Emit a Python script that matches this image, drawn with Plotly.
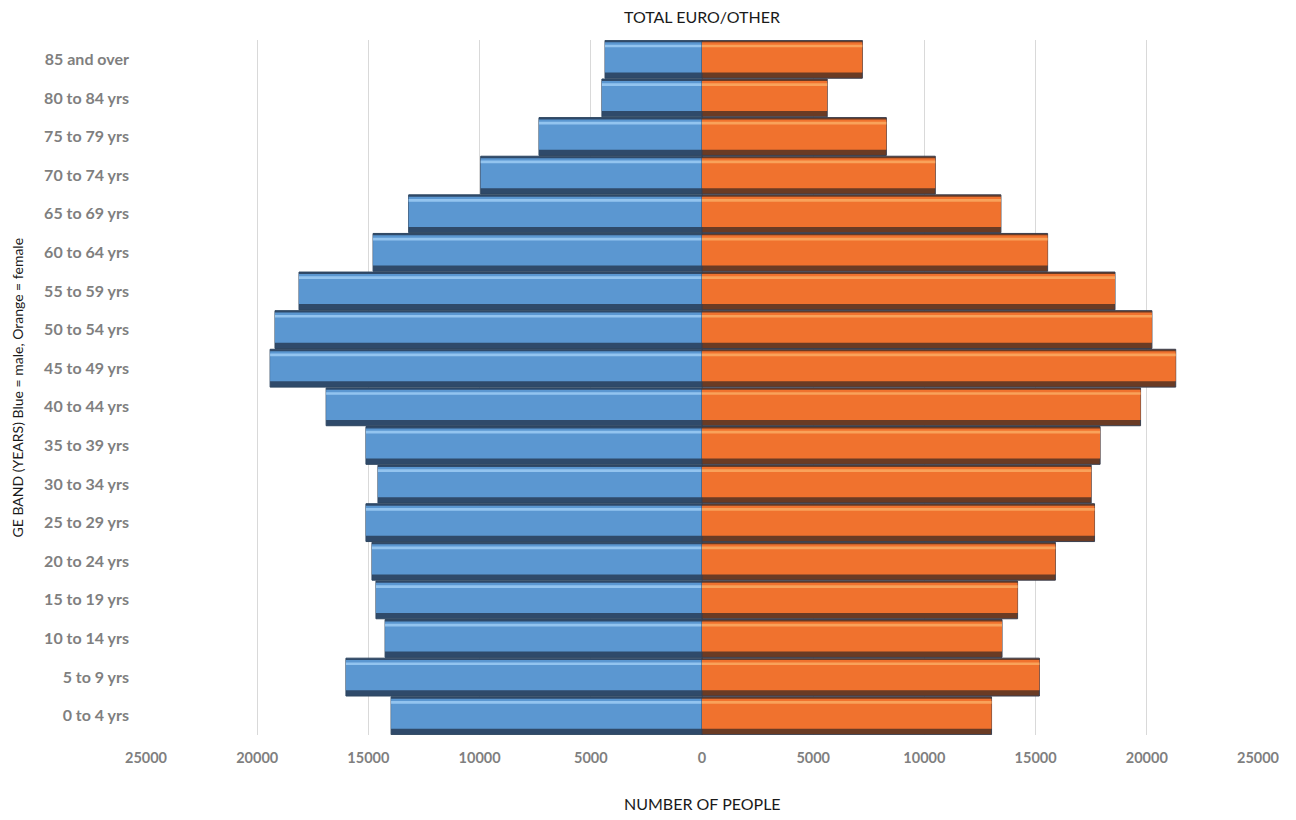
import plotly.graph_objects as go

# Age bands, youngest first (drawn bottom to top)
age_bands = [
    "0 to 4 yrs", "5 to 9 yrs", "10 to 14 yrs", "15 to 19 yrs", "20 to 24 yrs",
    "25 to 29 yrs", "30 to 34 yrs", "35 to 39 yrs", "40 to 44 yrs", "45 to 49 yrs",
    "50 to 54 yrs", "55 to 59 yrs", "60 to 64 yrs", "65 to 69 yrs", "70 to 74 yrs",
    "75 to 79 yrs", "80 to 84 yrs", "85 and over",
]

male = [13980, 16010, 14250, 14660, 14840, 15110, 14570, 15110, 16900, 19420,
        19200, 18120, 14790, 13190, 9950, 7330, 4500, 4360]
female = [13020, 15170, 13490, 14190, 15890, 17650, 17500, 17900, 19720, 21300,
          20230, 18570, 15540, 13440, 10490, 8290, 5630, 7210]

tick_values = [-25000, -20000, -15000, -10000, -5000, 0, 5000, 10000, 15000, 20000, 25000]
tick_text = ["25000", "20000", "15000", "10000", "5000", "0",
             "5000", "10000", "15000", "20000", "25000"]

male_x = [-v for v in male]

FONT = "Lato"
LABEL_GREY = "#7f7f7f"

fig = go.Figure()


def bevel_bar(xvals, body, light, shadow, edge):
    """Layered horizontal bar: dark base, coloured body, light top stripe."""
    # dark base / lower shadow band
    fig.add_trace(go.Bar(
        x=xvals, y=age_bands, orientation="h", width=0.98, offset=-0.49,
        marker=dict(color=shadow, line=dict(color=edge, width=1)),
        showlegend=False, hoverinfo="skip",
    ))
    # main body
    fig.add_trace(go.Bar(
        x=xvals, y=age_bands, orientation="h", width=0.78, offset=-0.34,
        marker=dict(color=body, line=dict(width=0)),
        showlegend=False, hoverinfo="skip",
    ))
    # highlight stripe near the top edge
    fig.add_trace(go.Bar(
        x=xvals, y=age_bands, orientation="h", width=0.07, offset=0.31,
        marker=dict(color=light, line=dict(width=0)),
        showlegend=False, hoverinfo="skip",
    ))


bevel_bar(male_x, "#5b97d1", "#93c4ef", "#2f4a6a", "#2e4660")
bevel_bar(female, "#f0722e", "#f9a25a", "#6a3b24", "#3a3f4e")

fig.update_layout(
    width=1296, height=820,
    margin=dict(l=146, r=38, t=40, b=85),
    paper_bgcolor="white", plot_bgcolor="white",
    barmode="overlay",
    font=dict(family=FONT, size=14, color="#262626"),
    title=dict(text="TOTAL EURO/OTHER", x=0.5, xanchor="center", xref="paper",
               y=1 - 17 / 820, yanchor="middle",
               font=dict(family=FONT, size=16, color="#1a1a1a")),
    xaxis=dict(
        range=[-25000, 25000], tickvals=tick_values, ticktext=tick_text,
        showgrid=True, gridcolor="#d9d9d9", gridwidth=1,
        zeroline=True, zerolinecolor="#bfbfbf", zerolinewidth=1,
        showline=False, ticks="", ticklabelstandoff=12,
        tickfont=dict(family=FONT, size=14.5, color=LABEL_GREY, weight="bold"),
        fixedrange=True,
    ),
    yaxis=dict(
        type="category", categoryorder="array", categoryarray=age_bands,
        range=[-0.5, 17.5], showgrid=False, zeroline=False, showline=False,
        ticks="", ticklabelstandoff=16,
        tickfont=dict(family=FONT, size=16, color=LABEL_GREY, weight="bold"),
        fixedrange=True,
    ),
    annotations=[
        dict(text="NUMBER OF PEOPLE", xref="paper", yref="paper",
             x=0.5, y=-(803 - 735) / 695, xanchor="center", yanchor="middle",
             showarrow=False, font=dict(family=FONT, size=16, color="#1a1a1a")),
        dict(text="GE BAND (YEARS) Blue = male, Orange = female",
             xref="paper", yref="paper", x=-(146 - 17) / 1112, y=0.5,
             xanchor="center", yanchor="middle", textangle=-90,
             showarrow=False, font=dict(family=FONT, size=14, color="#1a1a1a")),
    ],
)

fig.write_html("out.html")
